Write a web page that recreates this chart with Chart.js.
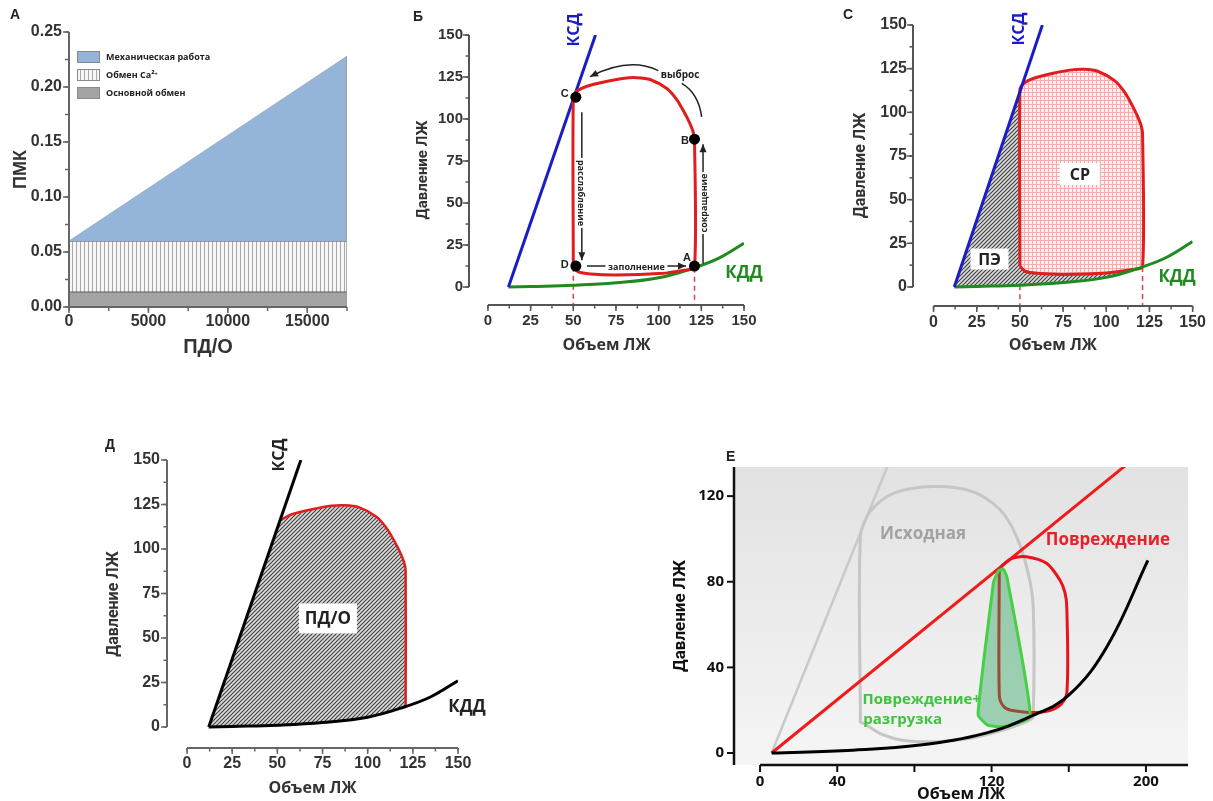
<!DOCTYPE html>
<html>
<head>
<meta charset="utf-8">
<script src="https://cdn.jsdelivr.net/npm/chart.js@4.4.1/dist/chart.umd.min.js"></script>
<style>
  body { margin: 0; width: 1213px; height: 801px; overflow: hidden; background: #fff; position: relative; }
  canvas { position: absolute; }
  .lbl { position: absolute; font: bold 14px "Liberation Sans", Arial, sans-serif; color: #222; }
</style>
</head>
<body>
<canvas id="cA" width="370" height="360" style="left:0;top:0"></canvas>
<canvas id="cB" width="410" height="360" style="left:400px;top:0"></canvas>
<canvas id="cC" width="393" height="360" style="left:820px;top:0"></canvas>
<canvas id="cD" width="420" height="381" style="left:90px;top:420px"></canvas>
<canvas id="cE" width="553" height="370" style="left:660px;top:440px"></canvas>
<div class="lbl" style="left:10px;top:6px">A</div>
<div class="lbl" style="left:413px;top:8px">Б</div>
<div class="lbl" style="left:843px;top:6px">C</div>
<div class="lbl" style="left:105px;top:436px">Д</div>
<div class="lbl" style="left:726px;top:448px">E</div>
<script>
// ---- A: ПМК от ПД/О
const aX = [0, 17500];
const aBase = [0.014, 0.014];
const aCa = [0.06, 0.06];
const aMech = [0.06, 0.228];
const aEdgeX = [17500, 17500];
const aEdgeY = [0, 0.228];
const aLegend = ['Механическая работа', 'Обмен Ca²⁺', 'Основной обмен'];
const aXTicks = [0, 5000, 10000, 15000];
const aYTicks = [0, 0.05, 0.10, 0.15, 0.20, 0.25];

// ---- Б, C, Д: петля давление-объем
const pvTicks = [0, 25, 50, 75, 100, 125, 150];
const ksdX = [12, 63];
const ksdY = [0, 150];
const kddX = [12, 25, 50, 75, 100, 121, 135, 150];
const kddY = [0, 0.3, 1, 2.5, 5.5, 11.5, 17, 26];
const loopX = [50, 50, 52, 58, 70, 80, 87, 95, 105, 111, 115, 118, 120, 121, 121, 115, 100, 75, 60, 53, 50];
const loopY = [12, 113, 116.5, 119.5, 122.5, 124.3, 124.6, 123.5, 118, 111, 104, 98, 93, 88, 11.5, 10, 8, 7.2, 7.8, 9, 12];
const cornerX = [50, 51];      // КСД at the left edge of the loop (C, Д)
const cornerY = [112, 115];
const dashX = [50, 121];
const dashTop = [1, 11.5];
const markX = [51.5, 121, 51.5, 121];
const markY = [113, 88, 12.5, 12.5];
const markTxt = ['C', 'B', 'D', 'A'];

// ---- E: повреждение
const eXTicks = [0, 40, 80, 120, 160, 200];
const eXLabels = [0, 40, 120, 200];
const eYTicks = [0, 40, 80, 120];
const eKsd0X = [6, 66];
const eKsd0Y = [0, 134];
const eKsd1X = [6, 189];
const eKsd1Y = [0, 134];
const eKddX = [6, 48, 83, 117, 140, 160, 180, 201];
const eKddY = [0, 1.3, 3.7, 9.3, 17, 27, 50, 90];
const eBaseX = [52, 52, 57, 69, 90, 110.5, 124.4, 133, 139, 141.6, 141.6, 140, 126, 109, 91.5, 74, 62, 53.5, 52];
const eBaseY = [14, 101, 112.8, 121.3, 124.5, 122, 113.6, 101, 84, 68, 18, 15.4, 10.7, 6.9, 5.3, 6, 9.2, 14, 14];
const eHurtX = [124, 124, 126, 130, 145, 155, 159, 159, 158, 155.4, 148.5, 138, 131, 126, 124];
const eHurtY = [85.5, 27, 22, 20, 19, 22, 28, 68, 75, 80.8, 88.6, 91.7, 91, 88, 85.5];
const eUnloadX = [121, 123.5, 126, 128, 140, 126, 118, 113, 121];
const eUnloadY = [80, 85, 86, 82, 17, 12.3, 13, 18, 80];

const pts = (xs, ys) => xs.map((x, i) => ({ x: x, y: ys[i] }));
const rev = a => a.slice().reverse();

function pattern(size, bg, fg, lw, kind) {
  const c = document.createElement('canvas');
  c.width = c.height = size;
  const g = c.getContext('2d');
  g.fillStyle = bg;
  g.fillRect(0, 0, size, size);
  g.strokeStyle = fg;
  g.lineWidth = lw;
  g.beginPath();
  if (kind === 'v' || kind === 'grid') { g.moveTo(0.5, 0); g.lineTo(0.5, size); }
  if (kind === 'grid') { g.moveTo(0, 0.5); g.lineTo(size, 0.5); }
  if (kind === 'diag') {
    g.moveTo(-1, size + 1); g.lineTo(size + 1, -1);
    g.moveTo(-1, 1); g.lineTo(1, -1);
    g.moveTo(size - 1, size + 1); g.lineTo(size + 1, size - 1);
  }
  g.stroke();
  return g.createPattern(c, 'repeat');
}
const stripes = pattern(4, '#f6f6f6', '#a9a9a9', 1, 'v');
const hatch = pattern(4, '#dcdcdc', '#444', 1.2, 'diag');
const pinkGrid = pattern(4, '#fdf0f0', '#f2acac', 1, 'grid');

function line(ctx, x1, y1, x2, y2) {
  ctx.beginPath(); ctx.moveTo(x1, y1); ctx.lineTo(x2, y2); ctx.stroke();
}

const decor = {
  id: 'decor',
  beforeDatasetsDraw(chart, args, o) {
    if (!o.bg) return;
    const a = chart.chartArea, ctx = chart.ctx;
    const g = ctx.createLinearGradient(0, a.top, 0, a.bottom);
    g.addColorStop(0, o.bg[0]);
    g.addColorStop(1, o.bg[1]);
    ctx.fillStyle = g;
    ctx.fillRect(a.left, a.top, a.right - a.left, a.bottom - a.top);
  },
  afterDraw(chart, args, o) {
    const ctx = chart.ctx, a = chart.chartArea;
    const px = v => chart.scales.x.getPixelForValue(v);
    const py = v => chart.scales.y.getPixelForValue(v);
    const ax = o.axes;
    if (ax) {
      ctx.save();
      ctx.strokeStyle = ax.color;
      ctx.lineWidth = ax.width;
      line(ctx, px(ax.x[0]), a.bottom, px(ax.x[1]), a.bottom);
      line(ctx, a.left, py(ax.y[0]), a.left, py(ax.y[1]));
      ctx.lineWidth = ax.tickWidth;
      for (let v = ax.x[0]; v <= ax.x[1] + 1e-9; v += ax.xMinor) line(ctx, px(v), a.bottom, px(v), a.bottom + ax.minor);
      for (let v = ax.y[0]; v <= ax.y[1] + 1e-9; v += ax.yMinor) line(ctx, a.left, py(v), a.left - ax.minor, py(v));
      ax.xMajor.forEach(v => line(ctx, px(v), a.bottom, px(v), a.bottom + ax.major));
      ax.yMajor.forEach(v => line(ctx, a.left, py(v), a.left - ax.major, py(v)));
      ctx.restore();
    }
    (o.arrows || []).forEach(r => {
      ctx.save();
      ctx.strokeStyle = ctx.fillStyle = '#222';
      ctx.lineWidth = 1.5;
      const f = [px(r.from[0]), py(r.from[1])], t = [px(r.to[0]), py(r.to[1])];
      let dir = f;
      ctx.beginPath();
      ctx.moveTo(f[0], f[1]);
      if (r.ctrl) {
        const c = [px(r.ctrl[0]), py(r.ctrl[1])];
        ctx.quadraticCurveTo(c[0], c[1], t[0], t[1]);
        dir = c;
      } else {
        ctx.lineTo(t[0], t[1]);
      }
      ctx.stroke();
      if (r.head) {
        const ang = Math.atan2(t[1] - dir[1], t[0] - dir[0]);
        ctx.translate(t[0], t[1]);
        ctx.rotate(ang);
        ctx.beginPath();
        ctx.moveTo(0, 0); ctx.lineTo(-8, -3.5); ctx.lineTo(-8, 3.5); ctx.closePath();
        ctx.fill();
      }
      ctx.restore();
    });
    (o.notes || []).forEach(n => {
      ctx.save();
      ctx.translate(px(n.x), py(n.y));
      if (n.rot) ctx.rotate(n.rot * Math.PI / 180);
      ctx.font = n.font;
      ctx.textAlign = 'center';
      ctx.textBaseline = 'middle';
      if (n.box) {
        ctx.fillStyle = '#fff';
        ctx.fillRect(-n.box[0] / 2, -n.box[1] / 2, n.box[0], n.box[1]);
      }
      ctx.fillStyle = n.color || '#222';
      ctx.fillText(n.text, 0, 1);
      ctx.restore();
    });
    const L = o.legend;
    if (L) {
      ctx.save();
      L.items.forEach((k, i) => {
        const ds = chart.data.datasets[k];
        const bx = a.left + L.dx, by = a.top + L.dy + i * L.row;
        ctx.fillStyle = ds.backgroundColor;
        ctx.fillRect(bx, by, L.w, L.h);
        ctx.strokeStyle = '#8a8a8a';
        ctx.lineWidth = 1;
        ctx.strokeRect(bx + 0.5, by + 0.5, L.w - 1, L.h - 1);
        ctx.fillStyle = '#222';
        ctx.font = L.font;
        ctx.textAlign = 'left';
        ctx.textBaseline = 'middle';
        ctx.fillText(ds.label, bx + L.w + 6, by + L.h / 2 + 0.5);
      });
      ctx.restore();
    }
  }
};
Chart.register(decor);

function scale(c, isX) {
  return {
    type: 'linear', min: c.min, max: c.max,
    afterBuildTicks: s => { s.ticks = c.ticks.map(v => ({ value: v })); },
    afterFit: s => { if (isX) s.height = c.size; else s.width = c.size; },
    grid: { display: false, drawTicks: false },
    border: { display: false },
    ticks: {
      autoSkip: false, maxRotation: 0, padding: c.pad, color: c.color || '#333', font: c.font,
      callback: v => (c.labels || c.ticks).includes(v) ? (c.fmt ? c.fmt(v) : String(v)) : ''
    },
    title: { display: true, text: c.title, color: c.color || '#333', font: c.titleFont, padding: 0 }
  };
}

function makeChart(id, s, datasets, decorOpts) {
  const cv = document.getElementById(id);
  return new Chart(cv, {
    type: 'scatter',
    data: {
      datasets: datasets.map((d, i) => Object.assign({
        showLine: true, pointRadius: 0, borderWidth: 3, fill: false, tension: 0, order: -i
      }, d))
    },
    options: {
      responsive: false, animation: false, devicePixelRatio: 1, events: [],
      layout: { padding: {
        left: s.area[0] - s.y.size, top: s.area[1],
        right: cv.width - s.area[2], bottom: cv.height - s.area[3] - s.x.size
      } },
      scales: { x: scale(s.x, true), y: scale(s.y, false) },
      plugins: { legend: { display: false }, tooltip: { enabled: false }, decor: decorOpts }
    }
  });
}

const arialB = sz => ({ family: "'Liberation Sans', Arial, sans-serif", size: sz, weight: 'bold' });
const openB = sz => ({ family: "'Open Sans', sans-serif", size: sz, weight: 'bold' });
const robB = sz => ({ family: "Roboto, sans-serif", size: sz, weight: 'bold' });
const note = (sz, fam) => 'bold ' + sz + 'px ' + (fam || "'Open Sans', sans-serif");

// ---------- A
makeChart('cA', {
  area: [69, 32, 347, 307],
  x: { min: 0, max: 17500, ticks: aXTicks, size: 52, pad: 5, font: arialB(16), title: 'ПД/О', titleFont: arialB(20) },
  y: { min: 0, max: 0.25, ticks: aYTicks, size: 59, pad: 7, font: arialB(16), fmt: v => v.toFixed(2), title: 'ПМК', titleFont: arialB(18) }
}, [
  { label: aLegend[2], data: pts(aX, aBase), fill: 'origin', backgroundColor: '#a4a4a4', borderColor: '#5c5c5c', borderWidth: 2 },
  { label: aLegend[1], data: pts(aX, aCa), fill: '-1', backgroundColor: stripes, borderColor: '#7c7c7c', borderWidth: 1.5 },
  { label: aLegend[0], data: pts(aX, aMech), fill: '-1', backgroundColor: '#94b4d9', borderColor: '#9fb0c4', borderWidth: 1 },
  { label: '', data: pts(aEdgeX, aEdgeY), borderColor: '#9a9a9a', borderWidth: 1.5 }
], {
  axes: { color: '#666', width: 2, tickWidth: 1.5, major: 6, minor: 4, x: [0, 17500], y: [0, 0.25],
    xMajor: aXTicks, yMajor: aYTicks, xMinor: 2500, yMinor: 0.025 },
  legend: { items: [2, 1, 0], dx: 8, dy: 19, row: 18, w: 23, h: 12, font: note(9) }
});

// ---------- Б
const pvAxes = { color: '#555', width: 2, tickWidth: 1.5, major: 6, minor: 3.5, x: [0, 150], y: [0, 150],
  xMajor: pvTicks, yMajor: pvTicks, xMinor: 12.5, yMinor: 12.5 };

makeChart('cB', {
  area: [69, 35, 344, 305],
  x: { min: -11.1, max: 150, ticks: pvTicks, size: 50, pad: 7, font: arialB(15), title: 'Объем ЛЖ', titleFont: openB(16) },
  y: { min: -10.7, max: 150, ticks: pvTicks, size: 55, pad: 6, font: arialB(15), title: 'Давление ЛЖ', titleFont: robB(15) }
}, [
  { data: pts([dashX[0], dashX[0]], [dashTop[0] + 11, -10.7]), borderColor: '#e04040', borderWidth: 1.5, borderDash: [5, 4] },
  { data: pts([dashX[1], dashX[1]], [dashTop[1], -10.7]), borderColor: '#e04040', borderWidth: 1.5, borderDash: [5, 4] },
  { data: pts(kddX, kddY), borderColor: '#1f8a1f', tension: 0.4 },
  { data: pts(ksdX, ksdY), borderColor: '#1c1cc4' },
  { data: pts(loopX, loopY), borderColor: '#e01e1e', tension: 0.25 },
  { data: pts(markX, markY), showLine: false, pointRadius: 5.5, backgroundColor: '#000', borderWidth: 0 }
], {
  axes: pvAxes,
  arrows: [
    { from: [55, 104], to: [55, 16], head: true },
    { from: [126, 14], to: [126, 85], head: true },
    { from: [58, 12.5], to: [116, 12.5], head: true },
    { from: [99.8, 128.8], ctrl: [82.8, 137.2], to: [59.8, 125.2], head: true },
    { from: [113.5, 121.2], ctrl: [123.3, 115.4], to: [125.2, 101.3] }
  ],
  notes: [
    { x: 49.8, y: 153, text: 'КСД', rot: -90, color: '#1c1cc4', font: note(16) },
    { x: 150, y: 9, text: 'КДД', color: '#1f8a1f', font: note(17) },
    { x: 112.5, y: 126.8, text: 'выброс', font: note(10) },
    { x: 45, y: 115.5, text: markTxt[0], font: note(11, 'Arial, sans-serif') },
    { x: 115.4, y: 87.5, text: markTxt[1], font: note(11, 'Arial, sans-serif') },
    { x: 45, y: 14, text: markTxt[2], font: note(11, 'Arial, sans-serif') },
    { x: 116.6, y: 17.8, text: markTxt[3], font: note(11, 'Arial, sans-serif') },
    { x: 55, y: 56, text: 'расслабление', rot: 90, box: [70, 11], font: note(9) },
    { x: 126, y: 50, text: 'сокращение', rot: -90, box: [62, 11], font: note(9) },
    { x: 87, y: 12.5, text: 'заполнение', box: [62, 11], font: note(9) }
  ]
});

// ---------- C
const peArea = pts([ksdX[0], cornerX[0], loopX[0]].concat(rev(loopX.slice(14, 20))).concat(rev(kddX.slice(0, 6))),
                   [ksdY[0], cornerY[0], loopY[0]].concat(rev(loopY.slice(14, 20))).concat(rev(kddY.slice(0, 6))));
makeChart('cC', {
  area: [93, 25, 378, 306],
  x: { min: -11.9, max: 150, ticks: pvTicks, size: 49, pad: 7, font: arialB(16), title: 'Объем ЛЖ', titleFont: openB(16) },
  y: { min: -10.9, max: 150, ticks: pvTicks, size: 62, pad: 6, font: arialB(16), title: 'Давление ЛЖ', titleFont: robB(16) }
}, [
  { data: peArea, fill: 'shape', backgroundColor: hatch, borderColor: 'transparent', borderWidth: 0 },
  { data: pts(loopX, loopY), fill: 'shape', backgroundColor: pinkGrid, borderColor: '#e01e1e', tension: 0.25 },
  { data: pts([dashX[0], dashX[0]], [dashTop[0], -10.9]), borderColor: '#e04040', borderWidth: 1.5, borderDash: [5, 4] },
  { data: pts([dashX[1], dashX[1]], [dashTop[1], -10.9]), borderColor: '#e04040', borderWidth: 1.5, borderDash: [5, 4] },
  { data: pts(kddX, kddY), borderColor: '#1f8a1f', tension: 0.4 },
  { data: pts(ksdX, ksdY), borderColor: '#1c1cc4' }
], {
  axes: pvAxes,
  notes: [
    { x: 49.4, y: 147.7, text: 'КСД', rot: -90, color: '#1c1cc4', font: note(16) },
    { x: 141, y: 6.3, text: 'КДД', color: '#1f8a1f', font: note(17) },
    { x: 32.4, y: 16, text: 'ПЭ', box: [38, 21], font: note(16) },
    { x: 84.7, y: 64.7, text: 'СР', box: [40, 22], font: note(16) }
  ]
});

// ---------- Д
const pdoArea = pts([ksdX[0], cornerX[1]].concat(loopX.slice(2, 15)).concat(rev(kddX.slice(0, 5))),
                    [ksdY[0], cornerY[1]].concat(loopY.slice(2, 15)).concat(rev(kddY.slice(0, 5))));
makeChart('cD', {
  area: [77, 40, 368, 328],
  x: { min: -11.1, max: 150, ticks: pvTicks, size: 50, pad: 6, font: arialB(16), title: 'Объем ЛЖ', titleFont: openB(16) },
  y: { min: -11.8, max: 150, ticks: pvTicks, size: 63, pad: 7, font: arialB(16), title: 'Давление ЛЖ', titleFont: robB(16) }
}, [
  { data: pdoArea, fill: 'shape', backgroundColor: hatch, borderColor: 'transparent', borderWidth: 0 },
  { data: pts(loopX.slice(2, 15), loopY.slice(2, 15)), borderColor: '#e01e1e', borderWidth: 2.5, tension: 0.25 },
  { data: pts(kddX, kddY), borderColor: '#000', tension: 0.4 },
  { data: pts(ksdX, ksdY), borderColor: '#000' }
], {
  axes: Object.assign({}, pvAxes, { color: '#666' }),
  notes: [
    { x: 50.4, y: 152.8, text: 'КСД', rot: -90, font: note(16) },
    { x: 155, y: 11.8, text: 'КДД', font: note(17) },
    { x: 78, y: 61, text: 'ПД/О', box: [58, 30], font: note(17) }
  ]
});

// ---------- E
makeChart('cE', {
  area: [74, 27, 528, 325],
  x: { min: -13.5, max: 221.8, ticks: eXTicks, labels: eXLabels, size: 39, pad: 8, color: '#111', font: openB(15), title: 'Объем ЛЖ', titleFont: openB(16) },
  y: { min: -5.6, max: 133.6, ticks: eYTicks, size: 63, pad: 10, color: '#111', font: openB(15), title: 'Давление ЛЖ', titleFont: robB(17) }
}, [
  { data: pts(eKsd0X, eKsd0Y), borderColor: '#c9c9c9', borderWidth: 2.5 },
  { data: pts(eBaseX, eBaseY), borderColor: '#c6c6c6', borderWidth: 3, tension: 0.3 },
  { data: pts(eKsd1X, eKsd1Y), borderColor: '#ee1c1c' },
  { data: pts(eHurtX, eHurtY), borderColor: '#e8141c', tension: 0.3 },
  { data: pts(eUnloadX, eUnloadY), fill: 'shape', backgroundColor: 'rgba(40,160,90,0.42)', borderColor: '#46d046', tension: 0.15 },
  { data: pts(eKddX, eKddY), borderColor: '#000', tension: 0.4 }
], {
  bg: ['#e2e2e2', '#f5f5f5'],
  axes: { color: '#111', width: 2.5, tickWidth: 2, major: 7, minor: 0, x: [0, 221.8], y: [-5.6, 133.6],
    xMajor: eXTicks, yMajor: eYTicks, xMinor: 1000, yMinor: 1000 },
  notes: [
    { x: 84.5, y: 102.8, text: 'Исходная', color: '#a2a2a2', font: note(17) },
    { x: 180.3, y: 100, text: 'Повреждение', color: '#e8202a', font: note(17) },
    { x: 83.8, y: 25.2, text: 'Повреждение+', color: '#3cc43c', font: note(15) },
    { x: 73.9, y: 16.2, text: 'разгрузка', color: '#3cc43c', font: note(15) }
  ]
});
</script>
</body>
</html>
